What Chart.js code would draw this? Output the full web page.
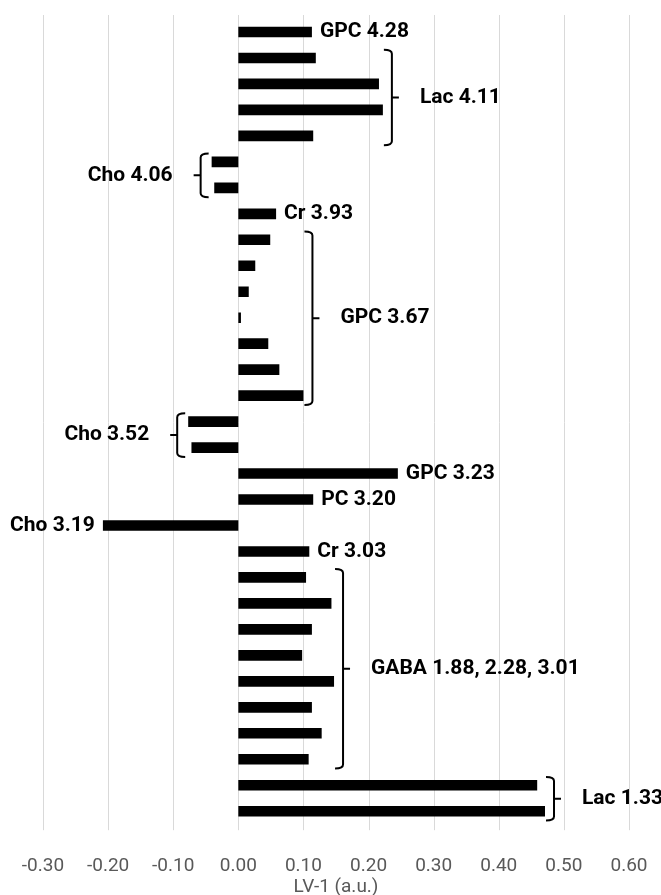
<!DOCTYPE html>
<html>
<head>
<meta charset="utf-8">
<script src="https://cdn.jsdelivr.net/npm/chart.js@4.4.1/dist/chart.umd.min.js"></script>
<style>
  html, body { margin: 0; padding: 0; background: #fff; }
  #wrap { width: 661px; height: 895px; position: relative; }
</style>
</head>
<body>
<div id="wrap"><canvas id="lvChart"></canvas></div>
<script>
// one label per bar; neighbouring bars with the same label share a bracket
const categories = [
    'GPC 4.28',
    'Lac 4.11', 'Lac 4.11', 'Lac 4.11', 'Lac 4.11',
    'Cho 4.06', 'Cho 4.06',
    'Cr 3.93',
    'GPC 3.67', 'GPC 3.67', 'GPC 3.67', 'GPC 3.67', 'GPC 3.67', 'GPC 3.67', 'GPC 3.67',
    'Cho 3.52', 'Cho 3.52',
    'GPC 3.23',
    'PC 3.20',
    'Cho 3.19',
    'Cr 3.03',
    'GABA 1.88, 2.28, 3.01', 'GABA 1.88, 2.28, 3.01', 'GABA 1.88, 2.28, 3.01', 'GABA 1.88, 2.28, 3.01',
    'GABA 1.88, 2.28, 3.01', 'GABA 1.88, 2.28, 3.01', 'GABA 1.88, 2.28, 3.01', 'GABA 1.88, 2.28, 3.01',
    'Lac 1.33', 'Lac 1.33'
];

const lv1 = [
    0.113,
    0.119, 0.216, 0.222, 0.115,
    -0.041, -0.037,
    0.058,
    0.049, 0.026, 0.016, 0.004, 0.046, 0.063, 0.100,
    -0.077, -0.072,
    0.245,
    0.115,
    -0.208,
    0.109,
    0.104, 0.143, 0.113, 0.098, 0.147, 0.113, 0.128, 0.108,
    0.459, 0.471
];

const xTickValues = [-0.3, -0.2, -0.1, 0, 0.1, 0.2, 0.3, 0.4, 0.5, 0.6];
const xTickLabels = ['-0.30', '-0.20', '-0.10', '0.00', '0.10', '0.20', '0.30', '0.40', '0.50', '0.60'];
const axisTitle = 'LV-1 (a.u.)';

function drawBracket(ctx, bx, top, mid, bot, dir) {
    const arm = 8, r = 4, tick = 7;
    ctx.beginPath();
    ctx.moveTo(bx - dir * arm, top);
    ctx.quadraticCurveTo(bx, top, bx, top + r);
    ctx.lineTo(bx, bot - r);
    ctx.quadraticCurveTo(bx, bot, bx - dir * arm, bot);
    ctx.moveTo(bx, mid);
    ctx.lineTo(bx + dir * tick, mid);
    ctx.stroke();
}

const groupLabels = {
    id: 'groupLabels',
    beforeDatasetsDraw(chart) {
        // vertical gridlines, running a little past the plot like in Excel
        const { ctx, chartArea, scales: { x } } = chart;
        ctx.save();
        ctx.strokeStyle = '#d9d9d9';
        ctx.lineWidth = 1;
        x.ticks.forEach(t => {
            const px = Math.round(x.getPixelForValue(t.value)) + 0.5;
            ctx.beginPath();
            ctx.moveTo(px, chartArea.top - 4);
            ctx.lineTo(px, chartArea.bottom + 6);
            ctx.stroke();
        });
        ctx.restore();
    },
    afterDatasetsDraw(chart) {
        const { ctx, scales: { x, y } } = chart;
        const bars = chart.getDatasetMeta(0).data;
        ctx.save();
        ctx.fillStyle = '#000';
        ctx.strokeStyle = '#000';
        ctx.lineWidth = 2;
        ctx.font = 'bold 21px Roboto';
        ctx.textBaseline = 'middle';

        let i = 0;
        while (i < categories.length) {
            let j = i;
            while (j + 1 < categories.length && categories[j + 1] === categories[i]) j++;
            const vals = lv1.slice(i, j + 1);
            const neg = vals.every(v => v < 0);
            const dir = neg ? -1 : 1;
            ctx.textAlign = neg ? 'right' : 'left';

            if (j === i) {
                const px = x.getPixelForValue(lv1[i]);
                ctx.fillText(categories[i], px + dir * 8, y.getPixelForValue(i));
            } else {
                const half = bars[i].height / 2;
                const top = y.getPixelForValue(i) - half - 3;
                const bot = y.getPixelForValue(j) + half + 4;
                const mid = (top + bot) / 2;
                const edge = x.getPixelForValue(neg ? Math.min(...vals) : Math.max(...vals));
                const bx = edge + dir * (neg ? 11 : 9);
                drawBracket(ctx, bx, top, mid, bot, dir);
                ctx.fillText(categories[i], bx + dir * 28, mid);
            }
            i = j + 1;
        }
        ctx.restore();
    }
};

const ctx = document.getElementById('lvChart').getContext('2d');
const chart = new Chart(ctx, {
    type: 'bar',
    data: {
        labels: categories,
        datasets: [{
            data: lv1,
            backgroundColor: '#000',
            borderWidth: 0,
            categoryPercentage: 1,
            barPercentage: 0.41
        }]
    },
    options: {
        indexAxis: 'y',
        responsive: true,
        maintainAspectRatio: false,
        animation: false,
        layout: { padding: { top: 19, left: 43, right: 32, bottom: 0 } },
        plugins: {
            legend: { display: false },
            tooltip: { enabled: false }
        },
        scales: {
            y: { display: false },
            x: {
                min: -0.3,
                max: 0.6,
                afterBuildTicks: axis => { axis.ticks = xTickValues.map(v => ({ value: v })); },
                // grid is drawn by the plugin; tickLength only spaces the labels
                grid: { display: false, drawTicks: true, tickLength: 31 },
                border: { display: false },
                ticks: {
                    padding: 0,
                    color: '#595959',
                    font: { family: 'Roboto', size: 19 },
                    callback: (v, idx) => xTickLabels[idx]
                },
                title: {
                    display: true,
                    text: axisTitle,
                    color: '#595959',
                    font: { family: 'Roboto', size: 19, lineHeight: 1 },
                    padding: { top: 0, bottom: -2 }
                }
            }
        }
    },
    plugins: [groupLabels]
});
</script>
</body>
</html>
